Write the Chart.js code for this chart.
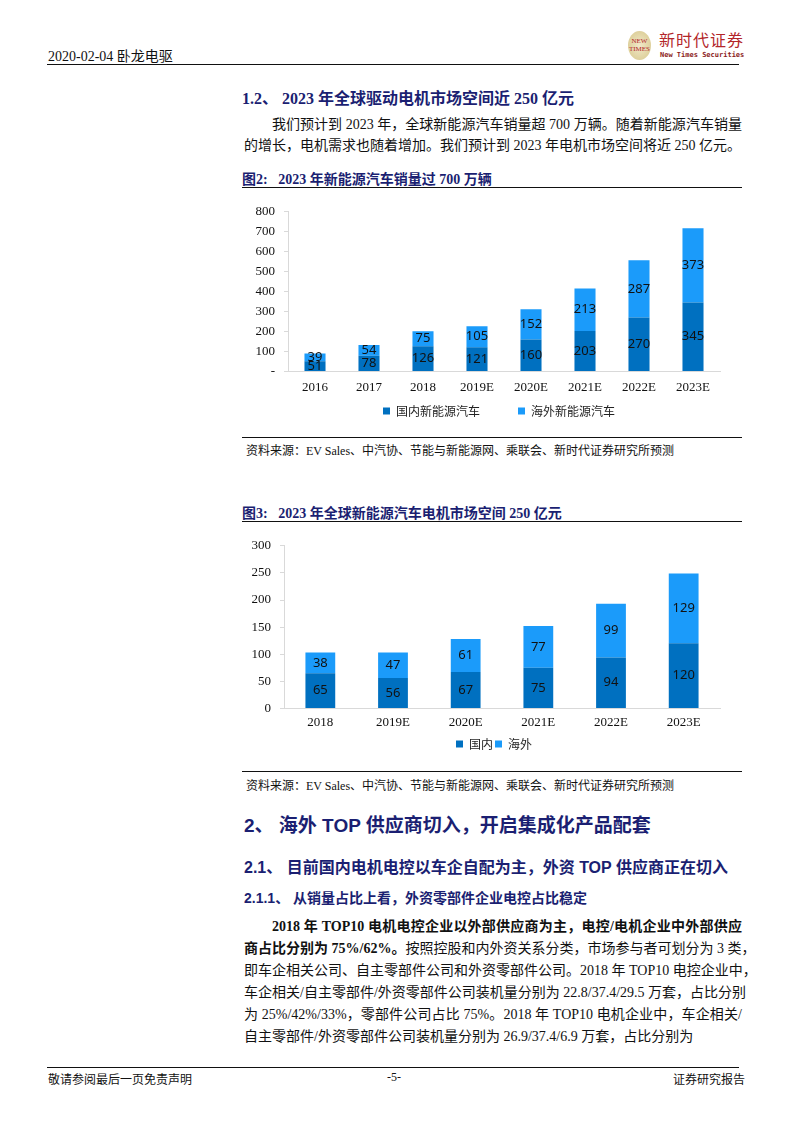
<!DOCTYPE html>
<html>
<head>
<meta charset="utf-8">
<script src="https://cdn.jsdelivr.net/npm/chart.js@4.4.0/dist/chart.umd.min.js"></script>
<style>
  body { margin: 0; background: #fff; }
  #page { position: relative; width: 793px; height: 1122px; overflow: hidden;
    font-family: "Liberation Serif", "Noto Sans CJK SC", serif; color: #111; }
  .abs { position: absolute; white-space: nowrap; }
  .rule { position: absolute; height: 0; border-top: 1.5px solid #111; }
  .navy { color: #1b1f72; font-weight: bold; }
  .line { position: absolute; left: 244px; width: 498px; font-size: 14px; line-height: 22px;
    text-align: justify; text-align-last: justify; white-space: nowrap; }
  .last { text-align-last: left; }
  .src { font-size: 12px; left: 246px; }
  .chartbox { position: absolute; left: 242px; width: 500px; }
</style>
</head>
<body>
<div id="page">
  <div class="abs" style="left:48px;top:45px;font-size:14px;">2020-02-04 卧龙电驱</div>
  <div class="abs" style="left:628px;top:31px;width:23px;height:29px;border-radius:50%;background:radial-gradient(#f1e9c9,#d6c68a);"></div>
  <div class="abs" style="left:626px;top:37px;font-size:7px;line-height:8px;color:#b3262a;font-family:'Liberation Serif';text-align:center;width:27px;">NEW<br>TIMES</div>
  <div class="abs" style="left:659px;top:29px;font-size:16px;line-height:20px;color:#b3262a;font-family:'Noto Sans CJK SC';letter-spacing:1px;">新时代证券</div>
  <div class="abs" style="left:660px;top:51px;font-size:7px;line-height:9px;color:#8b1a1a;font-family:'DejaVu Sans Mono';font-weight:bold;">New Times Securities</div>
  <div class="rule" style="left:47px;width:692px;top:64px;"></div>

  <div class="abs navy" style="left:242px;top:85px;font-size:16px;">1.2、 2023 年全球驱动电机市场空间近 250 亿元</div>
  <div class="line" style="top:114px;padding-left:28px;width:470px;">我们预计到 2023 年，全球新能源汽车销量超 700 万辆。随着新能源汽车销量</div>
  <div class="line last" style="top:135px;">的增长，电机需求也随着增加。我们预计到 2023 年电机市场空间将近 250 亿元。</div>

  <div class="abs navy" style="left:242px;top:168px;font-size:14px;">图2:&nbsp;&nbsp;&nbsp;2023 年新能源汽车销量过 700 万辆</div>
  <div class="rule" style="left:242px;width:500px;top:187px;border-top-width:1px;"></div>
  <div class="chartbox" style="top:195px;height:232px;"><canvas id="c1"></canvas></div>
  <div class="rule" style="left:242px;width:500px;top:437px;border-top-width:1px;"></div>
  <div class="abs src" style="top:441px;">资料来源：EV Sales、中汽协、节能与新能源网、乘联会、新时代证券研究所预测</div>

  <div class="abs navy" style="left:242px;top:502px;font-size:14px;">图3:&nbsp;&nbsp;&nbsp;2023 年全球新能源汽车电机市场空间 250 亿元</div>
  <div class="rule" style="left:242px;width:500px;top:521px;border-top-width:1px;"></div>
  <div class="chartbox" style="top:529px;height:231px;"><canvas id="c2"></canvas></div>
  <div class="rule" style="left:242px;width:500px;top:771px;border-top-width:1px;"></div>
  <div class="abs src" style="top:776px;">资料来源：EV Sales、中汽协、节能与新能源网、乘联会、新时代证券研究所预测</div>

  <div class="abs navy" style="left:244px;top:810px;font-size:19px;font-family:'Liberation Sans','Noto Sans CJK SC';">2、 海外 TOP 供应商切入，开启集成化产品配套</div>
  <div class="abs navy" style="left:244px;top:854px;font-size:16px;font-family:'Liberation Sans','Noto Sans CJK SC';">2.1、 目前国内电机电控以车企自配为主，外资 TOP 供应商正在切入</div>
  <div class="abs navy" style="left:244px;top:887px;font-size:14px;font-family:'Liberation Sans','Noto Sans CJK SC';">2.1.1、 从销量占比上看，外资零部件企业电控占比稳定</div>

  <div class="line" style="top:916px;padding-left:28px;width:470px;font-weight:bold;">2018 年 TOP10 电机电控企业以外部供应商为主，电控/电机企业中外部供应</div>
  <div class="line" style="top:938px;"><b>商占比分别为 75%/62%。</b>按照控股和内外资关系分类，市场参与者可划分为 3 类，</div>
  <div class="line" style="top:960px;">即车企相关公司、自主零部件公司和外资零部件公司。2018 年 TOP10 电控企业中，</div>
  <div class="line" style="top:982px;">车企相关/自主零部件/外资零部件公司装机量分别为 22.8/37.4/29.5 万套，占比分别</div>
  <div class="line" style="top:1004px;">为 25%/42%/33%，零部件公司占比 75%。2018 年 TOP10 电机企业中，车企相关/</div>
  <div class="line last" style="top:1026px;">自主零部件/外资零部件公司装机量分别为 26.9/37.4/6.9 万套，占比分别为</div>

  <div class="rule" style="left:47px;width:692px;top:1067px;"></div>
  <div class="abs" style="left:48px;top:1070px;font-size:12px;">敬请参阅最后一页免责声明</div>
  <div class="abs" style="left:387px;top:1070px;font-size:12px;">-5-</div>
  <div class="abs" style="left:673px;top:1070px;font-size:12px;">证券研究报告</div>
</div>

<script>
// 图2 数据（万辆）
const salesYears = ['2016', '2017', '2018', '2019E', '2020E', '2021E', '2022E', '2023E'];
const salesDomestic = [51, 78, 126, 121, 160, 203, 270, 345];
const salesOverseas = [39, 54, 75, 105, 152, 213, 287, 373];
// 图3 数据（亿元）
const motorYears = ['2018', '2019E', '2020E', '2021E', '2022E', '2023E'];
const motorDomestic = [65, 56, 67, 75, 94, 120];
const motorOverseas = [38, 47, 61, 77, 99, 129];

const darkBlue = '#0070c0';
const lightBlue = '#1b9bfa';
const axisGray = '#d9d9d9';

// 在每段柱子中间写数值
const segLabels = {
	id: 'segLabels',
	afterDatasetsDraw(chart) {
		const ctx = chart.ctx;
		ctx.save();
		ctx.font = '13px "Noto Sans", "DejaVu Sans", sans-serif';
		ctx.fillStyle = '#111';
		ctx.textAlign = 'center';
		ctx.textBaseline = 'middle';
		chart.data.datasets.forEach((ds, i) => {
			chart.getDatasetMeta(i).data.forEach((bar, j) => {
				ctx.fillText(ds.data[j], bar.x, (bar.y + bar.base) / 2);
			});
		});
		ctx.restore();
	}
};

// 图例在原图里略偏右，布局后整体挪一点
const legendShift = {
	id: 'legendShift',
	afterLayout(chart, args, opts) {
		chart.legend.left += opts.dx;
		chart.legend.right += opts.dx;
	}
};

function makeChart(id, labels, dom, ovs, names, yMax, yStep, zeroText, barPct, yWidth, xPad, dx) {
	return new Chart(document.getElementById(id), {
		type: 'bar',
		data: {
			labels: labels,
			datasets: [
				{ label: names[0], data: dom, backgroundColor: darkBlue, barPercentage: barPct, categoryPercentage: 1 },
				{ label: names[1], data: ovs, backgroundColor: lightBlue, barPercentage: barPct, categoryPercentage: 1 }
			]
		},
		options: {
			responsive: true,
			maintainAspectRatio: false,
			animation: false,
			layout: { padding: { top: 0, left: 0, right: 22 } },
			plugins: {
				tooltip: { enabled: false },
				legendShift: { dx: dx },
				legend: {
					position: 'bottom',
					labels: {
						boxWidth: 7, boxHeight: 7, padding: 2, color: '#222',
						font: { family: '"Noto Sans CJK SC"', size: 12 }
					}
				}
			},
			scales: {
				x: {
					stacked: true,
					grid: { display: false, drawTicks: false },
					border: { color: axisGray },
					ticks: { color: '#111', font: { family: '"Liberation Serif"', size: 13 }, padding: xPad }
				},
				y: {
					stacked: true,
					min: 0, max: yMax,
					afterFit(scale) { scale.width = yWidth; },
					grid: { drawOnChartArea: false, tickLength: 4, color: axisGray },
					border: { color: axisGray },
					ticks: {
						stepSize: yStep, autoSkip: false, color: '#111', padding: 9,
						font: { family: '"Liberation Serif"', size: 13 },
						callback: v => (v === 0 ? zeroText : v)
					}
				}
			}
		},
		plugins: [segLabels, legendShift]
	});
}

makeChart('c1', salesYears, salesDomestic, salesOverseas,
	['国内新能源汽车\u3000\u3000\u3000', '海外新能源汽车'], 800, 100, '-', 0.39, 46, 8, 18);
makeChart('c2', motorYears, motorDomestic, motorOverseas,
	['国内', '海外'], 300, 50, '0', 0.41, 42, 6, 13);
</script>
</body>
</html>
